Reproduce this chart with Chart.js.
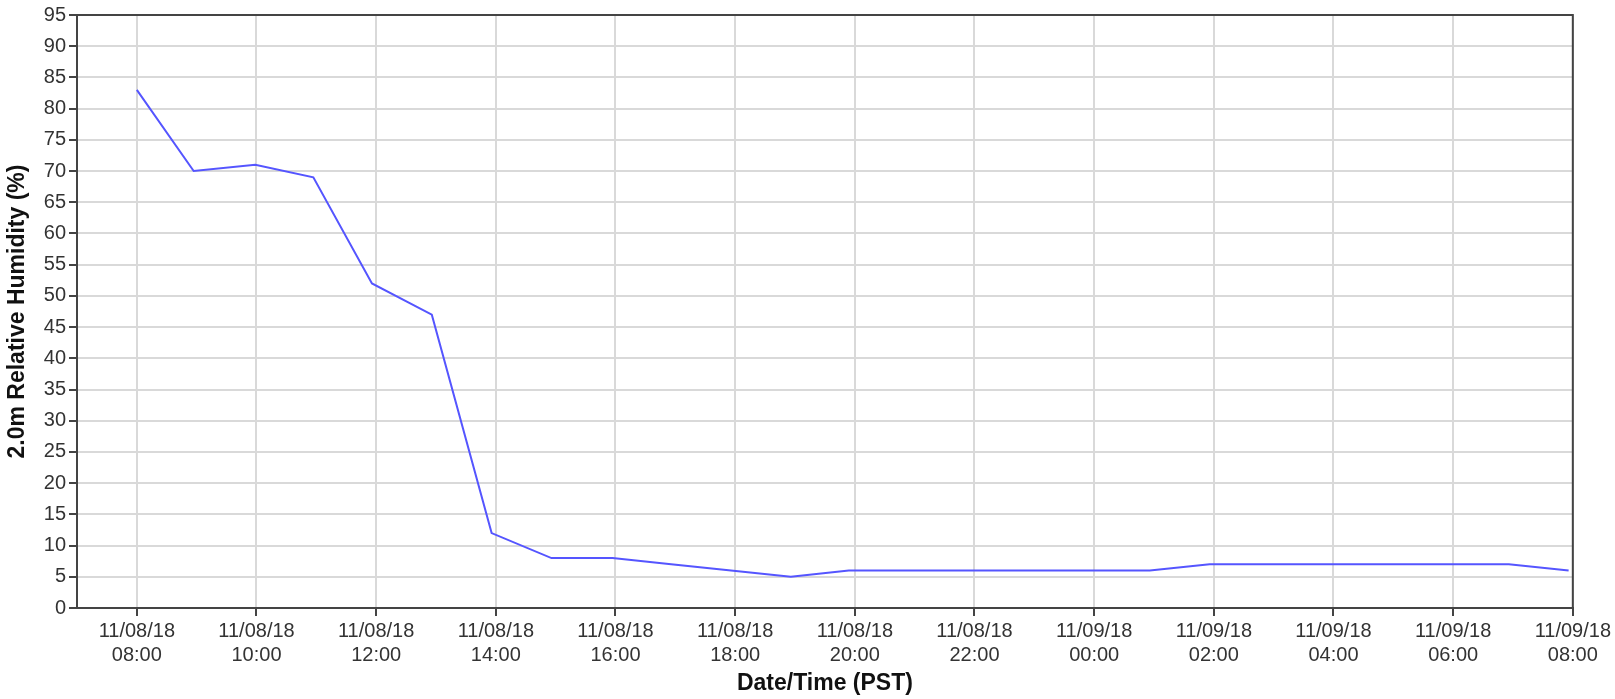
<!DOCTYPE html>
<html>
<head>
<meta charset="utf-8">
<script src="https://cdn.jsdelivr.net/npm/chart.js@4.4.1/dist/chart.umd.min.js"></script>
<style>
    html, body { margin: 0; padding: 0; background: #fff; }
    #wrap { width: 1615px; height: 699px; }
</style>
</head>
<body>
<div id="wrap"><canvas id="chart" width="1615" height="699"></canvas></div>
<script>
// 観測時刻（11/08/18 00:00 からの経過時間）
const obsHours = [8, 8.95, 9.98, 10.95, 11.93, 12.93, 13.93, 14.93, 15.95, 16.93, 17.93, 18.93, 19.9,
    20.93, 21.93, 22.93, 23.93, 24.93, 25.93, 26.93, 27.93, 28.93, 29.93, 30.93, 31.93];
// 2.0m 相対湿度 (%)
const humidity = [83, 70, 71, 69, 52, 47, 12, 8, 8, 7, 6, 5, 6,
    6, 6, 6, 6, 6, 7, 7, 7, 7, 7, 7, 6];

// 目盛り
const tickHours = [8, 10, 12, 14, 16, 18, 20, 22, 24, 26, 28, 30, 32];
const tickDates = ['11/08/18', '11/08/18', '11/08/18', '11/08/18', '11/08/18', '11/08/18', '11/08/18',
    '11/08/18', '11/09/18', '11/09/18', '11/09/18', '11/09/18', '11/09/18'];
const tickTimes = ['08:00', '10:00', '12:00', '14:00', '16:00', '18:00', '20:00',
    '22:00', '00:00', '02:00', '04:00', '06:00', '08:00'];

const AXIS_COLOR = '#444';
const GRID_COLOR = '#d9d9d9';
const TEXT_COLOR = '#333';

// プロット領域の上と右の枠線
const framePlugin = {
    id: 'frame',
    afterDraw(chart) {
        const { ctx, chartArea } = chart;
        ctx.save();
        ctx.strokeStyle = AXIS_COLOR;
        ctx.lineWidth = 2;
        ctx.beginPath();
        ctx.moveTo(chartArea.left, chartArea.top);
        ctx.lineTo(chartArea.right, chartArea.top);
        ctx.lineTo(chartArea.right, chartArea.bottom);
        ctx.stroke();
        ctx.restore();
    }
};

const ctx = document.getElementById('chart').getContext('2d');
new Chart(ctx, {
    type: 'line',
    data: {
        datasets: [{
            label: '2.0m Relative Humidity (%)',
            data: obsHours.map((h, i) => ({ x: h, y: humidity[i] })),
            borderColor: 'rgb(85, 85, 255)',
            borderWidth: 2,
            pointRadius: 0,
            tension: 0,
            fill: false
        }]
    },
    options: {
        responsive: false,
        animation: false,
        layout: { padding: { top: 11, right: 41, left: 0, bottom: 0 } },
        plugins: {
            legend: { display: false },
            tooltip: { enabled: false }
        },
        scales: {
            x: {
                type: 'linear',
                min: 7,
                max: 32,
                afterBuildTicks: (scale) => {
                    scale.ticks = tickHours.map(v => ({ value: v }));
                },
                afterFit: (scale) => { scale.height = 91; },
                ticks: {
                    autoSkip: false,
                    maxRotation: 0,
                    padding: 4,
                    color: TEXT_COLOR,
                    font: { family: 'Liberation Sans, Arial, sans-serif', size: 20, lineHeight: 1.17 },
                    callback: (value) => {
                        const i = tickHours.indexOf(value);
                        return i < 0 ? '' : [tickDates[i], tickTimes[i]];
                    }
                },
                grid: { color: GRID_COLOR, lineWidth: 2, tickColor: AXIS_COLOR, tickLength: 8, tickWidth: 2 },
                border: { color: AXIS_COLOR, width: 2 },
                title: {
                    display: true,
                    text: 'Date/Time (PST)',
                    color: '#111',
                    font: { family: 'Liberation Sans, Arial, sans-serif', size: 23, weight: 'bold' },
                    padding: { top: 0, bottom: 2 }
                }
            },
            y: {
                min: 0,
                max: 95,
                afterFit: (scale) => { scale.width = 77; },
                ticks: {
                    stepSize: 5,
                    padding: 3,
                    color: TEXT_COLOR,
                    font: { family: 'Liberation Sans, Arial, sans-serif', size: 20 }
                },
                grid: { color: GRID_COLOR, lineWidth: 2, tickColor: AXIS_COLOR, tickLength: 8, tickWidth: 2 },
                border: { color: AXIS_COLOR, width: 2 },
                title: {
                    display: true,
                    text: '2.0m Relative Humidity (%)',
                    color: '#111',
                    font: { family: 'Liberation Sans, Arial, sans-serif', size: 23, weight: 'bold' },
                    padding: { top: 4, bottom: 0 }
                }
            }
        }
    },
    plugins: [framePlugin]
});
</script>
</body>
</html>
